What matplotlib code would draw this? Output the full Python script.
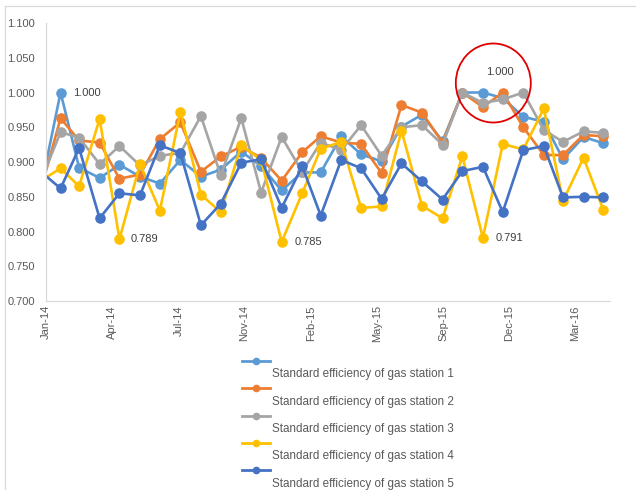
import numpy as np
import pandas as pd
import matplotlib
matplotlib.use('agg')
import matplotlib.pyplot as plt
import matplotlib.dates as mdates
from matplotlib.lines import Line2D
from matplotlib.patches import Ellipse

plt.rcParams['font.family'] = ['Liberation Sans', 'DejaVu Sans']

# monthly observations, Jan-2014 .. May-2016
months = pd.date_range('2014-01-01', periods=29, freq='MS')

station1 = [0.856, 1.000, 0.892, 0.877, 0.896, 0.879, 0.869, 0.903, 0.879, 0.889,
            0.915, 0.894, 0.859, 0.885, 0.885, 0.937, 0.911, 0.901, 0.951, 0.968,
            0.930, 1.000, 1.000, 0.992, 0.965, 0.958, 0.904, 0.936, 0.927]
station2 = [0.856, 0.963, 0.931, 0.928, 0.876, 0.882, 0.933, 0.957, 0.886, 0.908,
            0.922, 0.906, 0.873, 0.914, 0.937, 0.928, 0.926, 0.884, 0.982, 0.971,
            0.928, 1.000, 0.979, 1.000, 0.950, 0.910, 0.910, 0.939, 0.937]
station3 = [0.870, 0.943, 0.935, 0.897, 0.923, 0.895, 0.909, 0.913, 0.966, 0.881,
            0.963, 0.856, 0.936, 0.886, 0.928, 0.917, 0.953, 0.909, 0.950, 0.953,
            0.925, 1.000, 0.985, 0.990, 1.000, 0.946, 0.929, 0.944, 0.942]
station4 = [0.872, 0.891, 0.865, 0.962, 0.789, 0.897, 0.830, 0.972, 0.853, 0.828,
            0.924, 0.903, 0.785, 0.855, 0.919, 0.929, 0.834, 0.836, 0.945, 0.837,
            0.819, 0.908, 0.791, 0.926, 0.918, 0.977, 0.844, 0.906, 0.831]
station5 = [0.887, 0.862, 0.920, 0.819, 0.855, 0.852, 0.924, 0.913, 0.809, 0.840,
            0.899, 0.904, 0.834, 0.894, 0.823, 0.903, 0.891, 0.847, 0.898, 0.872,
            0.846, 0.887, 0.893, 0.828, 0.917, 0.923, 0.849, 0.850, 0.849]

series = [station1, station2, station3, station4, station5]
names = ['Standard efficiency of gas station %d' % (k + 1) for k in range(5)]
colors = ['#5B9BD5', '#ED7D31', '#A5A5A5', '#FFC000', '#4472C4']

W, H = 636, 490
fig = plt.figure(figsize=(W / 100, H / 100), dpi=100)
ax = fig.add_axes([46 / W, 1 - 301 / H, 564 / W, 278 / H])

for vals, name, c in zip(series, names, colors):
    ax.plot(months, vals, color=c, lw=1.9, marker='o', ms=6.6, label=name)

# axes formatting
ax.set_ylim(0.7, 1.1)
ax.set_yticks(np.arange(0.7, 1.1001, 0.05))
ax.yaxis.set_major_formatter(plt.FormatStrFormatter('%.3f'))
ax.set_xlim(pd.Timestamp('2014-01-10'), pd.Timestamp('2016-05-11'))
ax.set_xticks(pd.date_range('2014-01-10', periods=9, freq='100D'))
ax.xaxis.set_major_formatter(mdates.DateFormatter('%b-%y'))
plt.setp(ax.get_xticklabels(), rotation=90)
ax.tick_params(length=0, labelsize=8, labelcolor='#595959')
ax.tick_params(axis='y', pad=8)
ax.tick_params(axis='x', pad=3)
for s in ['top', 'right']:
    ax.spines[s].set_visible(False)
for s in ['left', 'bottom']:
    ax.spines[s].set_color('#D9D9D9')
    ax.spines[s].set_linewidth(0.9)

# data labels
lab_kw = dict(textcoords='offset points', fontsize=8, color='#404040', va='center')
ax.annotate('%.3f' % station1[1], (months[1], station1[1]), xytext=(9, 0), ha='left', **lab_kw)
ax.annotate('%.3f' % station4[4], (months[4], station4[4]), xytext=(8, 0), ha='left', **lab_kw)
ax.annotate('%.3f' % station4[12], (months[12], station4[12]), xytext=(9, 0), ha='left', **lab_kw)
ax.annotate('%.3f' % station4[22], (months[22], station4[22]), xytext=(9, 0), ha='left', **lab_kw)
ax.annotate('%.3f' % station1[22], (months[22], station1[22]), xytext=(12, 15), ha='center', **lab_kw)

# red circle around the efficient cluster
fig.add_artist(Ellipse((493.3 / W, 1 - 83 / H), 75 / W, 79 / H, transform=fig.transFigure,
                       fill=False, edgecolor='#E00000', lw=1.3))

# legend (Excel style: marker line above, text below)
for k, (name, c) in enumerate(zip(names, colors)):
    yl = 1 - (361 + 27.3 * k) / H
    yt = 1 - (374.3 + 27.3 * k) / H
    fig.add_artist(Line2D([242 / W, 270 / W], [yl, yl], color=c, lw=2,
                          transform=fig.transFigure))
    fig.add_artist(Line2D([256 / W], [yl], color=c, marker='o', ms=4.5,
                          transform=fig.transFigure))
    fig.text(272.5 / W, yt, name, fontsize=8.4, color='#595959', va='center', ha='left')

# chart area border (cropped at right/bottom)
fig.add_artist(Line2D([5 / W, 1], [1 - 6.5 / H, 1 - 6.5 / H], color='#D9D9D9', lw=0.9,
                      transform=fig.transFigure))
fig.add_artist(Line2D([5 / W, 5 / W], [0, 1 - 6.5 / H], color='#D9D9D9', lw=0.9,
                      transform=fig.transFigure))

fig.savefig('out.png', dpi=100)
